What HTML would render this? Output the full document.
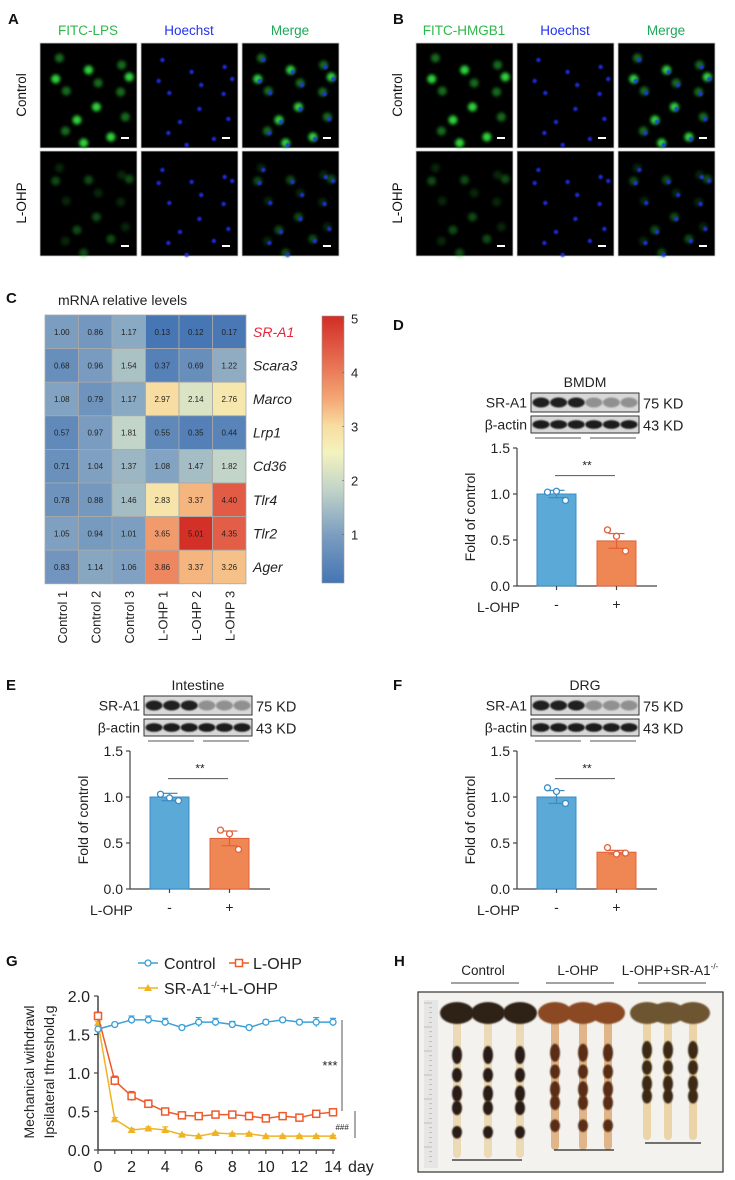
<!DOCTYPE html>
<html><head><meta charset="utf-8"><style>
html,body{margin:0;padding:0;background:#fff;}
svg{display:block;font-family:"Liberation Sans",Arial,sans-serif;}
</style></head><body>
<svg id="fig" width="735" height="1180" viewBox="0 0 735 1180" xmlns="http://www.w3.org/2000/svg">
<defs>
<filter id="bl" x="-50%" y="-50%" width="200%" height="200%"><feGaussianBlur stdDeviation="1.6"/></filter>
<filter id="bl2" x="-50%" y="-50%" width="200%" height="200%"><feGaussianBlur stdDeviation="0.8"/></filter>
<linearGradient id="cbar" x1="0" y1="1" x2="0" y2="0">
<stop offset="0" stop-color="#4575b4"/><stop offset="0.18" stop-color="#7b9dc0"/><stop offset="0.35" stop-color="#c2d4c8"/><stop offset="0.49" stop-color="#f3f3bd"/><stop offset="0.59" stop-color="#f8dca0"/><stop offset="0.69" stop-color="#f4a774"/><stop offset="0.84" stop-color="#e5694e"/><stop offset="1" stop-color="#d22d26"/>
</linearGradient>
</defs>
</svg>
<script>
// ---------- heatmap data ----------
const hmGenes = ["SR-A1","Scara3","Marco","Lrp1","Cd36","Tlr4","Tlr2","Ager"];
const hmSamples = ["Control 1","Control 2","Control 3","L-OHP 1","L-OHP 2","L-OHP 3"];
const hmValues = [
 [1.00,0.86,1.17,0.13,0.12,0.17],
 [0.68,0.96,1.54,0.37,0.69,1.22],
 [1.08,0.79,1.17,2.97,2.14,2.76],
 [0.57,0.97,1.81,0.55,0.35,0.44],
 [0.71,1.04,1.37,1.08,1.47,1.82],
 [0.78,0.88,1.46,2.83,3.37,4.40],
 [1.05,0.94,1.01,3.65,5.01,4.35],
 [0.83,1.14,1.06,3.86,3.37,3.26]];
const cbTicks = [1,2,3,4,5];
// ---------- bar chart data ----------
const barGroups = ["-","+"];
const dMeans = [1.00,0.49], dErr = [0.04,0.08], dPts = [[1.02,1.03,0.93],[0.61,0.54,0.38]];
const eMeans = [1.00,0.55], eErr = [0.04,0.08], ePts = [[1.03,0.99,0.96],[0.64,0.60,0.43]];
const fMeans = [1.00,0.40], fErr = [0.07,0.02], fPts = [[1.10,1.06,0.93],[0.45,0.38,0.39]];
const barTicks = [0.0,0.5,1.0,1.5];
// ---------- line chart data ----------
const gDays = [0,1,2,3,4,5,6,7,8,9,10,11,12,13,14];
const gControl = [1.57,1.63,1.69,1.69,1.66,1.59,1.66,1.66,1.63,1.59,1.66,1.69,1.66,1.66,1.66];
const gControlErr = [0.02,0.02,0.05,0.05,0.05,0.03,0.06,0.05,0.04,0.03,0.03,0.03,0.03,0.06,0.05];
const gLohp = [1.74,0.90,0.70,0.60,0.50,0.45,0.44,0.46,0.46,0.44,0.41,0.44,0.42,0.47,0.49];
const gLohpErr = [0.05,0.06,0.06,0.05,0.03,0.03,0.03,0.04,0.03,0.05,0.05,0.04,0.03,0.03,0.03];
const gKo = [1.65,0.40,0.26,0.28,0.26,0.20,0.18,0.22,0.21,0.21,0.18,0.18,0.18,0.18,0.18];
const gKoErr = [0.02,0.02,0.02,0.02,0.04,0.01,0.01,0.01,0.01,0.01,0.01,0.01,0.01,0.01,0.01];
const gXTicks = [0,2,4,6,8,10,12,14];
const gYTicks = [0.0,0.5,1.0,1.5,2.0];

const NS="http://www.w3.org/2000/svg";
const svg=document.getElementById('fig');
function el(tag,attrs,parent){const e=document.createElementNS(NS,tag);for(const k in attrs)e.setAttribute(k,attrs[k]);(parent||svg).appendChild(e);return e;}
function tx(x,y,s,attrs,parent){const e=el('text',Object.assign({x:x,y:y},attrs||{}),parent);e.textContent=s;return e;}

// ---------- panel letters ----------
[["A",8,24],["B",393,24],["C",6,303],["D",393,330],["E",6,690],["F",393,690],["G",6,966],["H",394,966]].forEach(p=>{
 const t=tx(p[1],p[2],p[0],{'font-size':15,'font-weight':'bold',fill:'#111'});
 
 
});

// ---------- microscopy ----------
const cellPos=[[20,15],[47,25],[78,18],[92,28],[24,48],[52,62],[88,70],[70,88],[20,88],[45,98],[80,45],[10,30],[60,40],[35,75]];
function micro(x0,labels,colors,rowNames,prefix){
 const cols=[[x0,97],[x0+101,97],[x0+202,97]];
 labels.forEach((l,i)=>{const t=tx(cols[i][0]+48,35,l,{'font-size':13.5,'text-anchor':'middle',fill:colors[i]});
  
  });
 const rows=[[43,105],[151,105]];
 rowNames.forEach((r,j)=>{const t=tx(0,0,r,{'font-size':13.5,'text-anchor':'middle',fill:'#111',transform:`translate(${x0-14},${rows[j][0]+52}) rotate(-90)`});
  
  });
 rows.forEach((r,j)=>cols.forEach((c,i)=>{
  const g=el('g',{});
  
  
  el('rect',{x:c[0],y:r[0],width:c[1],height:r[1],fill:'#000',stroke:'#ccc','stroke-width':0.8},g);
  const bright=j===0?1:0.35;
  cellPos.forEach((p,k)=>{
   const cx=c[0]+p[0]*c[1]/100+(k%3)*3, cy=r[0]+p[1]*r[1]/105+((k+j)%4)*2;
   if(i===0||i===2) el('circle',{cx:cx,cy:cy,r:4.5,fill:'#2fd33a',opacity:bright*(0.5+0.5*(k%2)),filter:'url(#bl)'},g);
   if(i===1||i===2) el('circle',{cx:cx+2,cy:cy+2,r:2.2,fill:'#2233ff',opacity:0.85,filter:'url(#bl2)'},g);
  });
  el('rect',{x:c[0]+c[1]-16,y:r[0]+r[1]-11,width:8,height:2,fill:'#fff'},g);
 }));
}
micro(40,["FITC-LPS","Hoechst","Merge"],["#2db84a","#2233ee","#1fa85a"],["Control","L-OHP"],'panel-a');
micro(416,["FITC-HMGB1","Hoechst","Merge"],["#2db84a","#2233ee","#1fa85a"],["Control","L-OHP"],'panel-b');

// ---------- heatmap ----------
function hmColor(v){
 const st=[[0.1,[69,117,180]],[1,[123,157,192]],[1.8,[194,212,200]],[2.5,[243,243,189]],[3,[248,220,160]],[3.5,[244,167,116]],[4.2,[229,105,78]],[5.05,[210,45,38]]];
 for(let i=0;i<st.length-1;i++){if(v<=st[i+1][0]){const t=Math.max(0,(v-st[i][0])/(st[i+1][0]-st[i][0]));const a=st[i][1],b=st[i+1][1];return `rgb(${a.map((q,k)=>Math.round(q+(b[k]-q)*t)).join(',')})`;}}
 return 'rgb(210,45,38)';
}
const hx0=45,hy0=315,cw=33.5,ch=33.6;
const hmTitle=tx(58,305,"mRNA relative levels",{'font-size':14,fill:'#222'});


hmValues.forEach((row,r)=>row.forEach((v,c)=>{
 const rc=el('rect',{x:hx0+c*cw,y:hy0+r*ch,width:cw,height:ch,fill:hmColor(v),stroke:'#a9a9a9','stroke-width':0.8});
 
 
 const t=tx(hx0+c*cw+cw/2,hy0+r*ch+ch/2+3,v.toFixed(2),{'font-size':8,'text-anchor':'middle',fill:'#222'});
 
 
}));
hmGenes.forEach((g,r)=>{
 const t=tx(hx0+6*cw+7,hy0+r*ch+ch/2+5,g,{'font-size':14,'font-style':'italic',fill:r===0?'#e8243a':'#222'});
 
 
});
hmSamples.forEach((s,c)=>{
 const t=tx(0,0,s,{'font-size':13,'text-anchor':'end',fill:'#222',transform:`translate(${hx0+c*cw+cw/2+5},${hy0+8*ch+7}) rotate(-90)`});
 
 
});
const cb=el('rect',{x:322,y:316,width:22,height:267,fill:'url(#cbar)',stroke:'#999','stroke-width':0.6});


function cbY(v){return 583-(v-0.1)*(267/4.95);}
cbTicks.forEach(v=>{
 const t=tx(351,cbY(v)+5,String(v),{'font-size':13,fill:'#222'});
 
 
 el('line',{x1:342,x2:344,y1:cbY(v),y2:cbY(v),stroke:'#666','stroke-width':0.6});
});

// ---------- bar charts ----------
function barPanel(dx,dy,title,means,errs,pts,prefix){
 const ax=517+dx, y0=586+dy, k=92;
 const Y=v=>y0-v*k;
 const bx=[537+dx,597+dx], bw=39;
 const g=el('g',{});
 
 
 // blot
 const bl=531+dx;
 const tt=tx(bl+54,dy+387,title,{'font-size':14,'text-anchor':'middle',fill:'#222'},g);
 
 
 [[dy+393,19,"SR-A1","75 KD",true],[dy+416,17,"β-actin","43 KD",false]].forEach(b=>{
  const bg=el('g',{},g);
  
  
  el('rect',{x:bl,y:b[0],width:108,height:b[1],fill:'#d8d8d8',stroke:'#333','stroke-width':1},bg);
  for(let i=0;i<6;i++){const dark=b[4]?(i<3?0.9:0.35):0.92;
   el('ellipse',{cx:bl+10+i*17.6,cy:b[0]+b[1]/2,rx:8.5,ry:b[1]*0.26,fill:'#111',opacity:dark,filter:'url(#bl2)'},bg);}
  tx(bl-4,b[0]+b[1]/2+5,b[2],{'font-size':14,'text-anchor':'end',fill:'#222'},bg);
  tx(bl+112,b[0]+b[1]/2+6,b[3],{'font-size':14.5,fill:'#222'},bg);
 });
 el('line',{x1:bl+4,x2:bl+50,y1:dy+438,y2:dy+438,stroke:'#555','stroke-width':1},g);
 el('line',{x1:bl+59,x2:bl+105,y1:dy+438,y2:dy+438,stroke:'#555','stroke-width':1},g);
 // axis
 el('line',{x1:ax,x2:ax,y1:Y(1.5),y2:y0,stroke:'#444','stroke-width':1.2},g);
 el('line',{x1:ax,x2:ax+140,y1:y0,y2:y0,stroke:'#444','stroke-width':1.2},g);
 barTicks.forEach(v=>{
  el('line',{x1:ax-4,x2:ax,y1:Y(v),y2:Y(v),stroke:'#444','stroke-width':1.2},g);
  const t=tx(ax-7,Y(v)+5,v.toFixed(1),{'font-size':14,'text-anchor':'end',fill:'#222'},g);
  
  
 });
 const yl=tx(0,0,"Fold of control",{'font-size':14,'text-anchor':'middle',fill:'#222',transform:`translate(${ax-42},${Y(0.75)}) rotate(-90)`},g);
 
 
 const cols=[['#5aa9d6','#3b8cc4'],['#ef8755','#e0603a']];
 means.forEach((m,i)=>{
  const r=el('rect',{x:bx[i],y:Y(m),width:bw,height:y0-Y(m),fill:cols[i][0],stroke:cols[i][1],'stroke-width':1},g);
  
  
  const c=bx[i]+bw/2;
  el('line',{x1:c,x2:c,y1:Y(m-errs[i]),y2:Y(m+errs[i]),stroke:cols[i][1],'stroke-width':1.2},g);
  el('line',{x1:c-8,x2:c+8,y1:Y(m+errs[i]),y2:Y(m+errs[i]),stroke:cols[i][1],'stroke-width':1.2},g);
  el('line',{x1:c-8,x2:c+8,y1:Y(m-errs[i]),y2:Y(m-errs[i]),stroke:cols[i][1],'stroke-width':1.2},g);
  pts[i].forEach((p,j)=>{
   const d=el('circle',{cx:c+(j-1)*9*(j===1?0:1),cy:Y(p),r:3,fill:'#fff',stroke:cols[i][1],'stroke-width':1.3},g);
   
   
  });
  el('line',{x1:c,x2:c,y1:y0,y2:y0+4,stroke:'#444','stroke-width':1.2},g);
  const gl=tx(c,y0+23,barGroups[i],{'font-size':14,'text-anchor':'middle',fill:'#222'},g);
  
  
 });
 const xl=tx(ax-40,y0+26,"L-OHP",{'font-size':14,fill:'#222'},g);
 
 
 el('line',{x1:bx[0]+18,x2:bx[1]+18,y1:Y(1.2),y2:Y(1.2),stroke:'#555','stroke-width':1},g);
 const s=tx((bx[0]+bx[1])/2+20,Y(1.2)-6,"**",{'font-size':12,'text-anchor':'middle',fill:'#222'},g);
 
 
}
barPanel(0,0,"BMDM",dMeans,dErr,dPts,'panel-d');
barPanel(-387,303,"Intestine",eMeans,eErr,ePts,'panel-e');
barPanel(0,303,"DRG",fMeans,fErr,fPts,'panel-f');

// ---------- line chart G ----------
(function(){
 const gx=d=>98+d*(235/14), gy=v=>1150-v*77;
 const g=el('g',{});
 
 
 el('line',{x1:98,x2:98,y1:gy(2),y2:1150,stroke:'#444','stroke-width':1.5},g);
 el('line',{x1:98,x2:335,y1:1150,y2:1150,stroke:'#444','stroke-width':1.5},g);
 gYTicks.forEach(v=>{el('line',{x1:94,x2:98,y1:gy(v),y2:gy(v),stroke:'#444','stroke-width':1.2},g);
  const t=tx(90,gy(v)+6,v.toFixed(1),{'font-size':16,'text-anchor':'end',fill:'#222'},g);
  
  });
 gDays.forEach(d=>el('line',{x1:gx(d),x2:gx(d),y1:1150,y2:1154,stroke:'#444','stroke-width':1.2},g));
 gXTicks.forEach(d=>{const t=tx(gx(d),1172,String(d),{'font-size':16,'text-anchor':'middle',fill:'#222'},g);
  
  });
 const dl=tx(348,1172,"day",{'font-size':16,fill:'#222'},g);
 
 
 const y1=tx(0,0,"Mechanical withdrawl",{'font-size':14,'text-anchor':'middle',fill:'#222',transform:'translate(34,1072) rotate(-90)'},g);
 
 
 const y2=tx(0,0,"Ipsilateral threshold,g",{'font-size':14,'text-anchor':'middle',fill:'#222',transform:'translate(54,1072) rotate(-90)'},g);
 
 
 function series(vals,errs,color,shape,name){
  const sg=el('g',{},g);
  
  
  el('polyline',{points:vals.map((v,i)=>gx(gDays[i])+','+gy(v)).join(' '),fill:'none',stroke:color,'stroke-width':1.5},sg);
  vals.forEach((v,i)=>{const x=gx(gDays[i]),y=gy(v);
   el('line',{x1:x,x2:x,y1:gy(v-errs[i]),y2:gy(v+errs[i]),stroke:color,'stroke-width':1.2},sg);
   el('line',{x1:x-3,x2:x+3,y1:gy(v+errs[i]),y2:gy(v+errs[i]),stroke:color,'stroke-width':1.2},sg);
   let m;
   if(shape==='c') m=el('circle',{cx:x,cy:y,r:3,fill:'#fff',stroke:color,'stroke-width':1.3},sg);
   else if(shape==='s') m=el('rect',{x:x-3.5,y:y-3.5,width:7,height:7,fill:'#fff',stroke:color,'stroke-width':1.5},sg);
   else m=el('polygon',{points:`${x},${y-4} ${x-4},${y+3} ${x+4},${y+3}`,fill:color},sg);
   
   
  });
 }
 series(gKo,gKoErr,'#f0b323','t','ko');
 series(gLohp,gLohpErr,'#ee5a2c','s','lohp');
 series(gControl,gControlErr,'#3aa0d8','c','control');
 el('line',{x1:342,x2:342,y1:1020,y2:1111,stroke:'#555','stroke-width':1},g);
 const s1=tx(330,1070,"***",{'font-size':13,'text-anchor':'middle',fill:'#222'},g);
 
 
 el('line',{x1:355,x2:355,y1:1111,y2:1138,stroke:'#555','stroke-width':1},g);
 const s2=tx(342,1130,"###",{'font-size':8,'text-anchor':'middle',fill:'#222','font-style':'italic'},g);
 
 
 // legend
 const lg=el('g',{},g);
 
 
 el('line',{x1:138,x2:158,y1:963,y2:963,stroke:'#3aa0d8','stroke-width':1.5},lg);
 el('circle',{cx:148,cy:963,r:3,fill:'#fff',stroke:'#3aa0d8','stroke-width':1.3},lg);
 tx(164,969,"Control",{'font-size':16,fill:'#222'},lg);
 el('line',{x1:229,x2:249,y1:963,y2:963,stroke:'#ee5a2c','stroke-width':1.5},lg);
 el('rect',{x:235.5,y:959.5,width:7,height:7,fill:'#fff',stroke:'#ee5a2c','stroke-width':1.5},lg);
 tx(253,969,"L-OHP",{'font-size':16,fill:'#222'},lg);
 el('line',{x1:138,x2:158,y1:988,y2:988,stroke:'#f0b323','stroke-width':1.5},lg);
 el('polygon',{points:'148,984 144,991 152,991',fill:'#f0b323'},lg);
 const kt=tx(164,994,"SR-A1",{'font-size':16,fill:'#222'},lg);
 const sup=document.createElementNS(NS,'tspan');sup.setAttribute('dy','-6');sup.setAttribute('font-size','9');sup.textContent='-/-';kt.appendChild(sup);
 const rest=document.createElementNS(NS,'tspan');rest.setAttribute('dy','6');rest.textContent='+L-OHP';kt.appendChild(rest);
})();

// ---------- panel H photo ----------
(function(){
 const g=el('g',{});
 
 
 el('rect',{x:418,y:992,width:305,height:180,fill:'#f4f2ee',stroke:'#333','stroke-width':1.2},g);
 el('rect',{x:424,y:1000,width:14,height:168,fill:'#e6e6e6'},g);
 for(let i=0;i<34;i++) el('line',{x1:432,x2:i%5===0?424:429,y1:1003+i*4.8,y2:1003+i*4.8,stroke:'#999','stroke-width':0.5},g);
 const groups=[{xs:[457,488,520],bottom:1158,cap:'#2e2418',peb:'#2a1f14',strip:'#ecd9b5'},
  {xs:[555,583,608],bottom:1150,cap:'#8a4a22',peb:'#5a2e14',strip:'#e0b58a'},
  {xs:[647,668,693],bottom:1140,cap:'#6d5430',peb:'#3c2a14',strip:'#ead4a8'}];
 const peb=[[0.28,10],[0.42,8],[0.55,9],[0.65,8],[0.82,7]];
 groups.forEach((gr,gi)=>{
  gr.xs.forEach(x=>{
   el('rect',{x:x-4,y:1015,width:8,height:gr.bottom-1015,rx:4,fill:gr.strip},g);
   el('ellipse',{cx:x,cy:1013,rx:17,ry:11,fill:gr.cap,filter:'url(#bl2)'},g);
   peb.forEach(p=>{if(gr.bottom-1015<130&&p[0]>0.8)return;
    el('ellipse',{cx:x,cy:1015+(gr.bottom-1015)*p[0],rx:5,ry:p[1]*0.9,fill:gr.peb,filter:'url(#bl2)'},g);});
  });
 });
 [[451,519,'Control',483],[546,614,'L-OHP',578],[638,706,'L-OHP+SR-A1',670]].forEach((h,i)=>{
  const t=tx(h[3],975,h[2],{'font-size':13.5,'text-anchor':'middle',fill:'#222'},g);
  
  
  if(i===2){const s=document.createElementNS(NS,'tspan');s.setAttribute('dy','-6');s.setAttribute('font-size','8');s.textContent='-/-';t.appendChild(s);}
  el('line',{x1:h[0],x2:h[1],y1:983,y2:983,stroke:'#444','stroke-width':1},g);
 });
 [[452,522,1160],[554,614,1150],[645,701,1143]].forEach(l=>el('line',{x1:l[0],x2:l[1],y1:l[2],y2:l[2],stroke:'#222','stroke-width':1.2},g));
})();
</script>
</body></html>
